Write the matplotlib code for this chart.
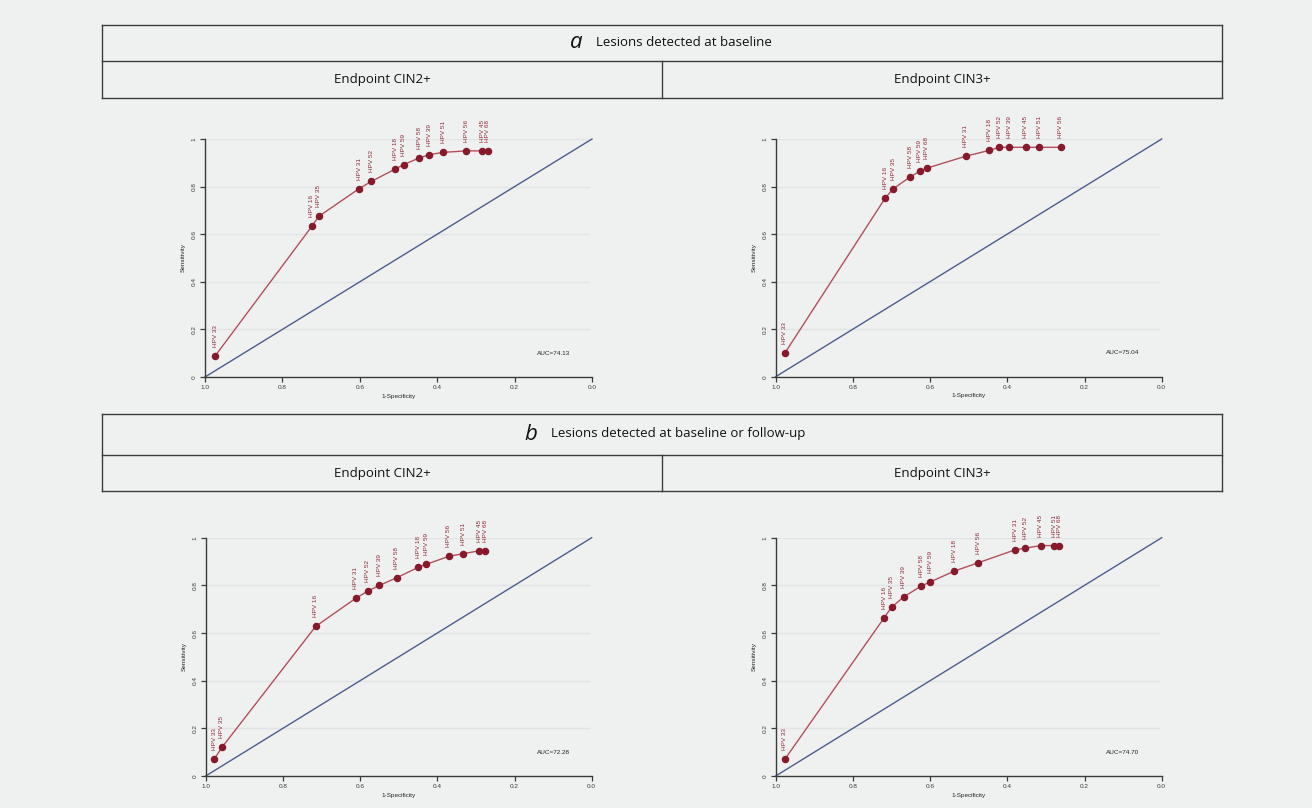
import matplotlib
matplotlib.use('Agg')
import matplotlib.pyplot as plt
from matplotlib.lines import Line2D

W, H = 1312, 808
BG = '#eff1f1'

# ---------------- data ----------------
# Panel a, CIN2+
a2_labels = ['HPV 33', 'HPV 16', 'HPV 35', 'HPV 31', 'HPV 52', 'HPV 18', 'HPV 59',
             'HPV 58', 'HPV 39', 'HPV 51', 'HPV 56', 'HPV 45', 'HPV 68']
a2_x = [0.974, 0.724, 0.706, 0.602, 0.570, 0.508, 0.487, 0.447, 0.421, 0.384, 0.325, 0.283, 0.269]
a2_y = [0.088, 0.633, 0.675, 0.791, 0.822, 0.874, 0.892, 0.920, 0.934, 0.944, 0.950, 0.950, 0.950]
a2_auc = 'AUC=74.13'

# Panel a, CIN3+
a3_labels = ['HPV 33', 'HPV 16', 'HPV 35', 'HPV 58', 'HPV 59', 'HPV 68', 'HPV 31',
             'HPV 18', 'HPV 52', 'HPV 39', 'HPV 45', 'HPV 51', 'HPV 56']
a3_x = [0.976, 0.716, 0.696, 0.652, 0.627, 0.609, 0.507, 0.447, 0.421, 0.395, 0.352, 0.317, 0.262]
a3_y = [0.100, 0.752, 0.790, 0.840, 0.864, 0.877, 0.928, 0.952, 0.965, 0.965, 0.965, 0.965, 0.965]
a3_auc = 'AUC=75.04'

# Panel b, CIN2+
b2_labels = ['HPV 33', 'HPV 35', 'HPV 16', 'HPV 31', 'HPV 52', 'HPV 39', 'HPV 58',
             'HPV 18', 'HPV 59', 'HPV 56', 'HPV 51', 'HPV 45', 'HPV 68']
b2_x = [0.978, 0.958, 0.715, 0.611, 0.580, 0.550, 0.505, 0.449, 0.429, 0.370, 0.333, 0.291, 0.276]
b2_y = [0.071, 0.120, 0.628, 0.746, 0.776, 0.800, 0.832, 0.876, 0.888, 0.922, 0.933, 0.945, 0.945]
b2_auc = 'AUC=72.28'

# Panel b, CIN3+
b3_labels = ['HPV 33', 'HPV 16', 'HPV 35', 'HPV 39', 'HPV 58', 'HPV 59', 'HPV 18',
             'HPV 56', 'HPV 31', 'HPV 52', 'HPV 45', 'HPV 51', 'HPV 68']
b3_x = [0.976, 0.719, 0.700, 0.668, 0.623, 0.599, 0.537, 0.475, 0.380, 0.354, 0.313, 0.279, 0.266]
b3_y = [0.071, 0.664, 0.708, 0.752, 0.797, 0.815, 0.860, 0.895, 0.949, 0.956, 0.967, 0.967, 0.967]
b3_auc = 'AUC=74.70'

x_ticks = [1.0, 0.8, 0.6, 0.4, 0.2, 0.0]
x_ticklabels = ['1.0', '0.8', '0.6', '0.4', '0.2', '0.0']
y_ticks = [0, 0.2, 0.4, 0.6, 0.8, 1.0]
y_ticklabels = ['0', '0.2', '0.4', '0.6', '0.8', '1']
grid_levels = [0.2, 0.4, 0.6, 0.8, 1.0]

section_letters = ['a', 'b']
section_titles = ['Lesions detected at baseline', 'Lesions detected at baseline or follow-up']
endpoint_titles = ['Endpoint CIN2+', 'Endpoint CIN3+']

# ---------------- style ----------------
SMALL_FONT = ['Liberation Sans', 'DejaVu Sans']
HEAD_FONT = ['Open Sans', 'DejaVu Sans']
PT_COLOR = '#861a2a'
LINE_COLOR = '#b0505a'
LABEL_COLOR = '#8e2a36'
DIAG_COLOR = '#4e5c8c'
AX_COLOR = '#3a3a3a'
GRID_COLOR = '#e0e4e4'
BOX_COLOR = '#3c3c3c'

fig = plt.figure(figsize=(W / 100, H / 100), dpi=100, facecolor=BG)

panels = [
    (a2_labels, a2_x, a2_y, a2_auc, (205, 377, 592, 139)),
    (a3_labels, a3_x, a3_y, a3_auc, (775.7, 376.7, 1161.7, 139)),
    (b2_labels, b2_x, b2_y, b2_auc, (205.7, 776, 591.7, 537.7)),
    (b3_labels, b3_x, b3_y, b3_auc, (775.7, 776, 1161.7, 537.7)),
]

FS = 4.6
for labels, xs, ys, auc, (x0, y0, x1, y1) in panels:
    ax = fig.add_axes([x0 / W, 1 - y0 / H, (x1 - x0) / W, (y0 - y1) / H])
    ax.set_facecolor('none')
    ax.set_xlim(1.0, 0.0)
    ax.set_ylim(0.0, 1.0)
    for s in ('top', 'right'):
        ax.spines[s].set_visible(False)
    for s in ('left', 'bottom'):
        ax.spines[s].set_color(AX_COLOR)
        ax.spines[s].set_linewidth(1.0)
    ax.set_xticks(x_ticks)
    ax.set_xticklabels(x_ticklabels, family=SMALL_FONT)
    ax.set_yticks(y_ticks)
    ax.set_yticklabels(y_ticklabels, rotation=90, va='center', family=SMALL_FONT)
    ax.tick_params(direction='out', length=3.5, width=0.9, labelsize=FS, pad=2.5,
                   colors=AX_COLOR)
    ax.hlines(grid_levels, 1.0, 0.005, color=GRID_COLOR, lw=1.0, zorder=0)
    ax.plot([1.0, 0.0], [0.0, 1.0], color=DIAG_COLOR, lw=1.0, zorder=1, clip_on=False)
    ax.plot(xs, ys, color=LINE_COLOR, lw=1.0, zorder=2, clip_on=False)
    ax.plot(xs, ys, 'o', color=PT_COLOR, ms=4.4, mec=PT_COLOR, zorder=3, clip_on=False)
    for lab, x, y in zip(labels, xs, ys):
        ax.annotate(lab, (x, y), xytext=(0, 6.5), textcoords='offset points',
                    rotation=90, ha='center', va='bottom', fontsize=FS,
                    color=LABEL_COLOR, family=SMALL_FONT, annotation_clip=False)
    ax.text(0.10, 0.10, auc, ha='center', va='center', fontsize=FS,
            color='#222222', family=SMALL_FONT)
    ax.text(0.5, -19 / 238, '1-Specificity', transform=ax.transAxes, ha='center',
            va='center', fontsize=FS, color='#222222', family=SMALL_FONT)
    ax.text(-22 / 387, 0.5, 'Sensitivity', transform=ax.transAxes, ha='center',
            va='center', rotation=90, fontsize=FS, color='#222222', family=SMALL_FONT)


def fline(xa, ya, xb, yb):
    fig.add_artist(Line2D([xa / W, xb / W], [1 - ya / H, 1 - yb / H],
                          color=BOX_COLOR, lw=1.0, transform=fig.transFigure))


boxes = [(25, 61, 98, 576, 43, 80), (414, 455, 491, 531, 434, 473)]
for i, (top, mid, bot, lx, ty, ey) in enumerate(boxes):
    fline(102, top, 1222, top)
    fline(102, mid, 1222, mid)
    fline(102, bot, 1222, bot)
    fline(102, top, 102, bot)
    fline(1222, top, 1222, bot)
    fline(662, mid, 662, bot)
    fig.text(lx / W, 1 - ty / H, section_letters[i], style='italic', fontsize=16,
             ha='center', va='center', family=HEAD_FONT, color='#111111')
    fig.text((lx + 20) / W, 1 - ty / H, section_titles[i], fontsize=9.5,
             ha='left', va='center', family=HEAD_FONT, color='#111111')
    fig.text(382 / W, 1 - ey / H, endpoint_titles[0], fontsize=9.5,
             ha='center', va='center', family=HEAD_FONT, color='#111111')
    fig.text(942 / W, 1 - ey / H, endpoint_titles[1], fontsize=9.5,
             ha='center', va='center', family=HEAD_FONT, color='#111111')

fig.savefig('out.png', dpi=100, facecolor=BG)
